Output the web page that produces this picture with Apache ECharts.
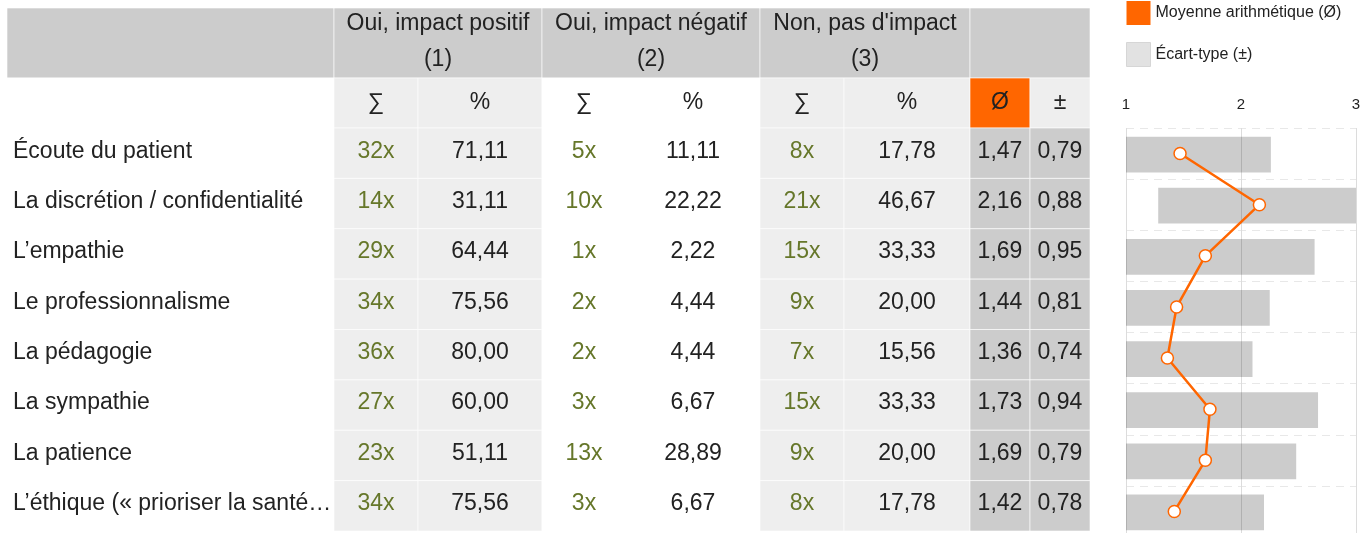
<!DOCTYPE html>
<html><head><meta charset="utf-8">
<script src="https://cdn.jsdelivr.net/npm/echarts@6/dist/echarts.min.js"></script>
<style>html,body{margin:0;padding:0;background:#fff}#c{width:1371px;height:533px}</style>
</head><body><div id="c"></div>
<script>
// ---------- data ----------
const rowLabels = ['Écoute du patient','La discrétion / confidentialité','L’empathie','Le professionnalisme','La pédagogie','La sympathie','La patience','L’éthique (« prioriser la santé…'];
const groupTitles = ['Oui, impact positif\n(1)','Oui, impact négatif\n(2)','Non, pas d\'impact\n(3)'];
const subHeaders = ['∑','%','∑','%','∑','%','Ø','±'];
const countsPos = [32,14,29,34,36,27,23,34];
const pctPos = [71.11,31.11,64.44,75.56,80.00,60.00,51.11,75.56];
const countsNeg = [5,10,1,2,2,3,13,3];
const pctNeg = [11.11,22.22,2.22,4.44,4.44,6.67,28.89,6.67];
const countsNone = [8,21,15,9,7,15,9,8];
const pctNone = [17.78,46.67,33.33,20.00,15.56,33.33,20.00,17.78];
const means = [1.47,2.16,1.69,1.44,1.36,1.73,1.69,1.42];
const sds = [0.79,0.88,0.95,0.81,0.74,0.94,0.79,0.78];
const scaleTicks = [1,2,3];
const legendNames = ['Moyenne arithmétique (Ø)','Écart-type (±)'];

// ---------- layout ----------
const colWidths = [327,84,124,84,134,84,126,60,60];
const colEdges = colWidths.reduce((a,w)=>{a.push(a[a.length-1]+w);return a;},[0]);
const tableW = colEdges[colEdges.length-1];
const headEdges = [0,70,120];
const FONT = '"Liberation Sans", Arial, Helvetica, sans-serif';
const TXT = '#222222', OLIVE = '#66772a', ORANGE = '#ff6600';
const fmt = v => v.toFixed(2).replace('.', ',');

// header cells
const headCells = [];
const addHead = (c0,c1,r,text,bg) => headCells.push({c0,c1,r,text,bg});
addHead(0,1,0,'','#cccccc');
groupTitles.forEach((t,g)=>addHead(1+2*g,3+2*g,0,t,'#cccccc'));
addHead(7,9,0,'','#cccccc');
const subBg = ['#ffffff','#eeeeee','#eeeeee','#ffffff','#ffffff','#eeeeee','#eeeeee',ORANGE,'#eeeeee'];
addHead(0,1,1,'','#ffffff');
subHeaders.forEach((t,k)=>addHead(k+1,k+2,1,t,subBg[k+1]));

// body cells
const bodyBg = ['#ffffff','#eeeeee','#eeeeee','#ffffff','#ffffff','#eeeeee','#eeeeee','#cccccc','#cccccc'];
const bodyCells = [];
rowLabels.forEach((lab,i)=>{
  const texts = [lab, countsPos[i]+'x', fmt(pctPos[i]), countsNeg[i]+'x', fmt(pctNeg[i]),
                 countsNone[i]+'x', fmt(pctNone[i]), fmt(means[i]), fmt(sds[i])];
  texts.forEach((t,k)=>bodyCells.push({c:k, r:i, text:t, bg:bodyBg[k],
     color:(k===1||k===3||k===5)?OLIVE:TXT}));
});

function cellText(text, x0, x1, yc, align, color){
  return {type:'text', z2:2, style:{text, x: align==='left' ? x0+6 : (x0+x1)/2, y: yc,
    align, verticalAlign:'middle', fill:color, fontSize:23, fontFamily:FONT, lineHeight:36}};
}

const chart = echarts.init(document.getElementById('c'), null, {renderer:'canvas'});
chart.setOption({
  animation:false,
  backgroundColor:'#ffffff',
  legend:{
    orient:'vertical', left:1126, top:1, padding:0, itemWidth:24, itemHeight:24, itemGap:17,
    textStyle:{fontSize:16, color:TXT, fontFamily:FONT}, selectedMode:false,
    data:[
      {name:legendNames[0], icon:'rect', itemStyle:{color:ORANGE, borderWidth:0}, lineStyle:{width:0}},
      {name:legendNames[1], icon:'rect', itemStyle:{color:'#e2e2e2', borderColor:'#d6d6d6', borderWidth:1}}
    ]
  },
  grid:[
    {left:7, top:8, width:tableW, height:120, outerBoundsMode:'none'},
    {left:7, top:128, width:tableW, height:403, outerBoundsMode:'none'},
    {left:1126, top:128, width:230, height:409, outerBoundsMode:'none'}
  ],
  xAxis:[
    {gridIndex:0, type:'value', min:0, max:tableW, show:false},
    {gridIndex:1, type:'value', min:0, max:tableW, show:false},
    {gridIndex:2, type:'value', min:scaleTicks[0], max:scaleTicks[scaleTicks.length-1], interval:1,
     position:'top', axisLine:{show:false}, axisTick:{show:false},
     axisLabel:{fontSize:15, color:TXT, fontFamily:FONT, margin:16},
     splitLine:{show:true, lineStyle:{color:'#dcdcdc', width:1}}}
  ],
  yAxis:[
    {gridIndex:0, type:'value', min:0, max:120, inverse:true, show:false},
    {gridIndex:1, type:'category', data:rowLabels, inverse:true, show:false},
    {gridIndex:2, type:'category', data:rowLabels, inverse:true,
     axisLine:{show:false}, axisTick:{show:false}, axisLabel:{show:false},
     splitLine:{show:true, lineStyle:{color:'#e8e8e8', type:[8,6], width:1}}}
  ],
  series:[
    {type:'custom', xAxisIndex:0, yAxisIndex:0, silent:true,
     data: headCells.map(c=>[colEdges[c.c0], colEdges[c.c1], headEdges[c.r], headEdges[c.r+1]]),
     encode:{x:[0,1], y:[2,3]},
     renderItem(params, api){
       const c = headCells[params.dataIndex];
       const p0 = api.coord([api.value(0), api.value(2)]);
       const p1 = api.coord([api.value(1), api.value(3)]);
       const y0 = Math.min(p0[1],p1[1]), h = Math.abs(p1[1]-p0[1]);
       const children = [{type:'rect', shape:{x:p0[0], y:y0, width:p1[0]-p0[0], height:h},
         style:{fill:c.bg, stroke:'rgba(255,255,255,0.6)', lineWidth:1}}];
       if (c.text) children.push(cellText(c.text, p0[0], p1[0], y0+h/2 + (c.r===0?-1:0), 'center', TXT));
       return {type:'group', children};
     }},
    {type:'custom', xAxisIndex:1, yAxisIndex:1, silent:true,
     data: bodyCells.map(c=>[colEdges[c.c], colEdges[c.c+1], c.r]),
     encode:{x:[0,1], y:2},
     renderItem(params, api){
       const c = bodyCells[params.dataIndex];
       const p0 = api.coord([api.value(0), api.value(2)]);
       const p1 = api.coord([api.value(1), api.value(2)]);
       const h = api.size([0,1])[1];
       const children = [{type:'rect', shape:{x:p0[0], y:p0[1]-h/2, width:p1[0]-p0[0], height:h},
         style:{fill:c.bg, stroke:'rgba(255,255,255,0.6)', lineWidth:1}}];
       children.push(cellText(c.text, p0[0], p1[0], p0[1]-2, c.c===0?'left':'center', c.color));
       return {type:'group', children};
     }},
    {type:'custom', name:legendNames[1], xAxisIndex:2, yAxisIndex:2, silent:true, z:2,
     itemStyle:{color:'#e2e2e2'},
     data: means.map((m,i)=>[m-sds[i], m+sds[i], i]),
     encode:{x:[0,1], y:2},
     renderItem(params, api){
       const lo = Math.max(scaleTicks[0], api.value(0));
       const hi = Math.min(scaleTicks[scaleTicks.length-1], api.value(1));
       const a = api.coord([lo, api.value(2)]), b = api.coord([hi, api.value(2)]);
       const h = api.size([0,1])[1]*0.7;
       return {type:'rect', shape:{x:a[0], y:a[1]-h/2+1, width:b[0]-a[0], height:h},
               style:{fill:'rgba(0,0,0,0.2)'}};
     }},
    {type:'line', name:legendNames[0], xAxisIndex:2, yAxisIndex:2, z:5, silent:true,
     data: means.map((m,i)=>[m,i]),
     symbol:'circle', symbolSize:12,
     itemStyle:{color:'#ffffff', borderColor:ORANGE, borderWidth:1.5},
     lineStyle:{color:ORANGE, width:2.5}}
  ]
});
</script></body></html>
